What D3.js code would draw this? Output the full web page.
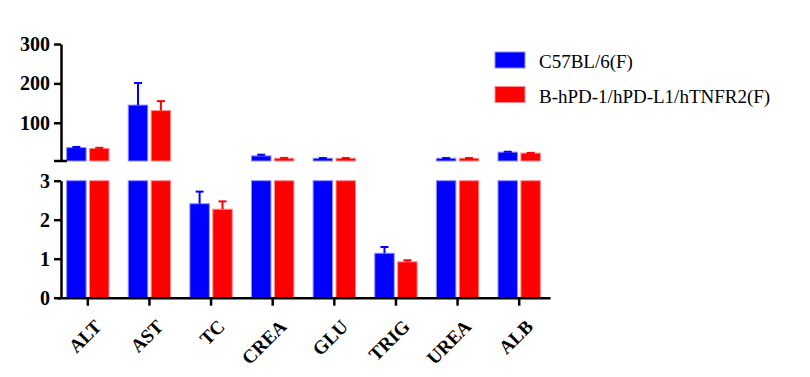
<!DOCTYPE html>
<html>
<head>
<meta charset="utf-8">
<script src="https://cdn.jsdelivr.net/npm/d3@7"></script>
<style>
  body { margin: 0; background: #fff; }
  svg { display: block; }
  .axis path, .axis line { stroke: #000; stroke-width: 2.5; }
</style>
</head>
<body>
<svg id="chart"></svg>
<script>
// categories and series
const categories = ["ALT", "AST", "TC", "CREA", "GLU", "TRIG", "UREA", "ALB"];
const seriesNames = ["C57BL/6(F)", "B-hPD-1/hPD-L1/hTNFR2(F)"];
const seriesColors = ["#0000ff", "#ff0000"];
const seriesEdge = ["#8c8cff", "#ff8c8c"];

// mean values
const wildValues = [37, 145, 2.41, 16, 10, 1.14, 10, 25.5];
const wildErrors = [1.5, 56, 0.31, 3, 0.5, 0.16, 0.5, 1];
const mutValues = [35, 131, 2.27, 10, 10, 0.92, 10, 23];
const mutErrors = [1.5, 24, 0.2, 0.8, 0.5, 0.04, 0.5, 0.6];

const topTicks = [100, 200, 300];
const bottomTicks = [0, 1, 2, 3];

const serif = '"Liberation Serif", "Times New Roman", serif';

const config = {
    width: 810, height: 377,
    left: 57, right: 550,
    top: { domain: [3, 300], range: [161, 44] },
    bottom: { domain: [0, 3], range: [297.7, 180.7] },
    axisX: 61
};

const svg = d3.select("#chart")
    .attr("width", config.width)
    .attr("height", config.height);

// scales
const xScale = d3.scaleBand()
    .domain(categories)
    .range([config.left, config.right]);
const xInner = d3.scaleBand()
    .domain([0, 1])
    .range([0, xScale.bandwidth()])
    .paddingInner(0.15)
    .paddingOuter(0.42);
const yTop = d3.scaleLinear().domain(config.top.domain).range(config.top.range);
const yBot = d3.scaleLinear().domain(config.bottom.domain).range(config.bottom.range);

// build rows
const rows = [];
categories.forEach((c, i) => {
    rows.push({ cat: c, s: 0, v: wildValues[i], e: wildErrors[i] });
    rows.push({ cat: c, s: 1, v: mutValues[i], e: mutErrors[i] });
});

// bottom segment bars (clipped at 3)
const maxBot = config.bottom.domain[1];
svg.append("g").selectAll("rect")
    .data(rows)
    .join("rect")
    .attr("x", d => xScale(d.cat) + xInner(d.s))
    .attr("width", xInner.bandwidth())
    .attr("y", d => yBot(Math.min(d.v, maxBot)))
    .attr("height", d => yBot(0) - yBot(Math.min(d.v, maxBot)))
    .attr("fill", d => seriesColors[d.s])
    .attr("stroke", d => seriesEdge[d.s])
    .attr("stroke-width", 1);

// top segment bars (only values above 3)
const topRows = rows.filter(d => d.v > maxBot);
svg.append("g").selectAll("rect")
    .data(topRows)
    .join("rect")
    .attr("x", d => xScale(d.cat) + xInner(d.s))
    .attr("width", xInner.bandwidth())
    .attr("y", d => yTop(d.v))
    .attr("height", d => yTop(config.top.domain[0]) - yTop(d.v))
    .attr("fill", d => seriesColors[d.s])
    .attr("stroke", d => seriesEdge[d.s])
    .attr("stroke-width", 1);

// error bars (upper only)
const errG = svg.append("g");
rows.forEach(d => {
    const y = d.v > maxBot ? yTop : yBot;
    const cx = xScale(d.cat) + xInner(d.s) + xInner.bandwidth() / 2;
    errG.append("line")
        .attr("x1", cx).attr("x2", cx)
        .attr("y1", y(d.v)).attr("y2", y(d.v + d.e))
        .attr("stroke", seriesColors[d.s])
        .attr("stroke-width", 2);
    errG.append("line")
        .attr("x1", cx - 4).attr("x2", cx + 4)
        .attr("y1", y(d.v + d.e)).attr("y2", y(d.v + d.e))
        .attr("stroke", seriesColors[d.s])
        .attr("stroke-width", 2);
});

// y axes
const axTop = svg.append("g")
    .attr("class", "axis")
    .attr("transform", `translate(${config.axisX},0)`)
    .call(d3.axisLeft(yTop).tickValues(topTicks).tickFormat(d3.format("d"))
        .tickSize(7).tickSizeOuter(0).tickPadding(4));
axTop.append("line")
    .attr("x1", -7).attr("x2", 6)
    .attr("y1", yTop(config.top.domain[0])).attr("y2", yTop(config.top.domain[0]))
    .attr("stroke", "#000").attr("stroke-width", 3);

const axBot = svg.append("g")
    .attr("class", "axis")
    .attr("transform", `translate(${config.axisX},0)`)
    .call(d3.axisLeft(yBot).tickValues(bottomTicks).tickFormat(d3.format("d"))
        .tickSize(7).tickSizeOuter(0).tickPadding(4));

[axTop, axBot].forEach(ax => {
    ax.attr("font-family", serif).attr("font-size", 20).attr("font-weight", "bold");
    ax.selectAll("text")
        .style("font-family", serif)
        .style("font-weight", "bold")
        .style("font-size", "20px")
        .attr("fill", "#000");
});

// x axis
const axX = svg.append("g")
    .attr("class", "axis")
    .attr("transform", `translate(0,${yBot(0)})`)
    .call(d3.axisBottom(xScale).tickSize(8).tickSizeOuter(0));
axX.attr("font-family", serif).attr("font-size", 19).attr("font-weight", "bold");
axX.selectAll("text")
    .style("font-family", serif)
    .style("font-weight", "bold")
    .style("font-size", "19px")
    .attr("fill", "#000")
    .attr("text-anchor", "end")
    .attr("x", 0).attr("y", 0).attr("dy", 0)
    .attr("transform", "translate(15,30) rotate(-45)");

// legend
const legend = svg.append("g").attr("transform", "translate(495,52)");
seriesNames.forEach((name, i) => {
    const g = legend.append("g").attr("transform", `translate(0,${i * 34.5})`);
    g.append("rect")
        .attr("width", 30).attr("height", 16)
        .attr("fill", seriesColors[i])
        .attr("stroke", seriesEdge[i]).attr("stroke-width", 1);
    g.append("text")
        .attr("x", 44).attr("y", 16)
        .attr("font-family", serif)
        .attr("font-size", "19px")
        .attr("fill", "#000")
        .text(name);
});
</script>
</body>
</html>
